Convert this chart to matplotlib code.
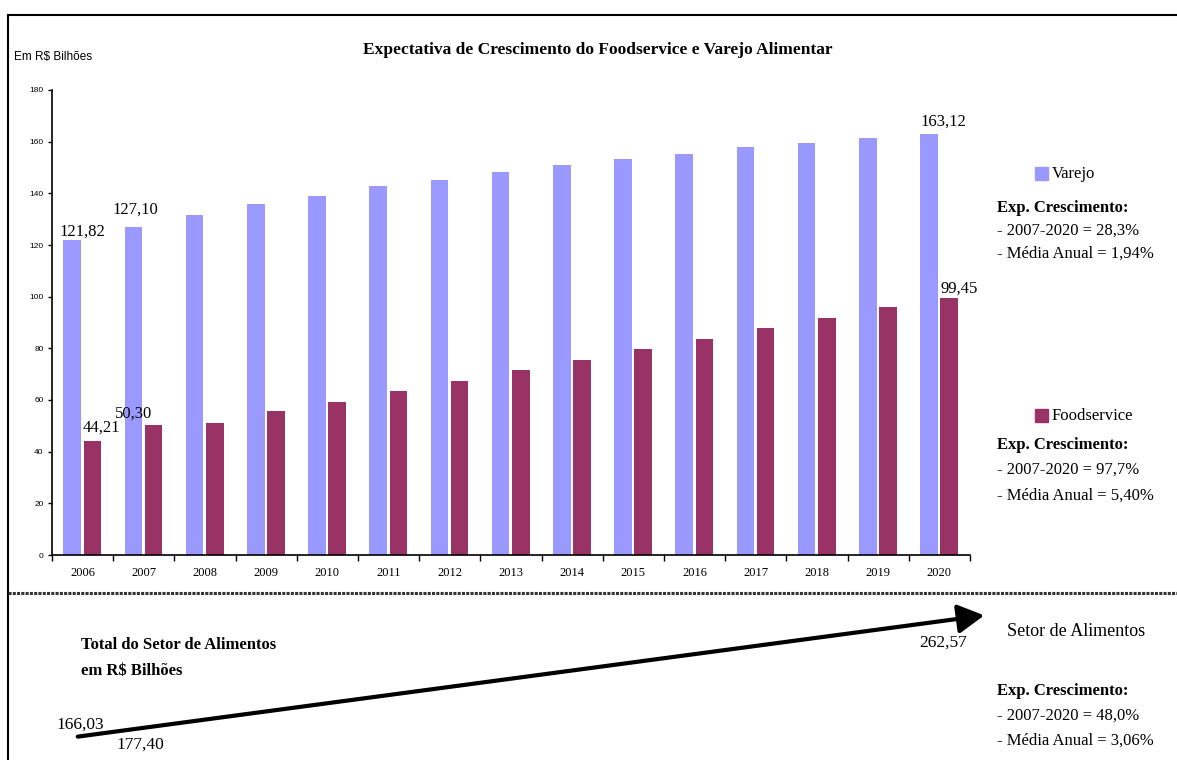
import numpy as np
import matplotlib.pyplot as plt
from matplotlib.lines import Line2D
from matplotlib.patches import Rectangle, FancyArrowPatch

W, H = 1177, 760

# dados
anos = ["2006", "2007", "2008", "2009", "2010", "2011", "2012", "2013",
        "2014", "2015", "2016", "2017", "2018", "2019", "2020"]
varejo = [121.82, 127.10, 131.6, 135.9, 139.0, 142.9, 145.2, 148.3,
          151.0, 153.3, 155.2, 158.0, 159.5, 161.4, 163.12]
foodservice = [44.21, 50.30, 51.1, 55.7, 59.2, 63.5, 67.4, 71.6,
               75.5, 79.7, 83.6, 87.9, 91.8, 96.0, 99.45]
total_setor = [166.03, 177.40, 262.57]
cresc_varejo = ["- 2007-2020 = 28,3%", "- Média Anual = 1,94%"]
cresc_food = ["- 2007-2020 = 97,7%", "- Média Anual = 5,40%"]
cresc_total = ["- 2007-2020 = 48,0%", "- Média Anual = 3,06%"]

cor_varejo = "#9999FF"
cor_food = "#993366"

plt.rcParams["font.family"] = ["Liberation Serif", "DejaVu Serif"]


def fmt(v):
    return f"{v:.2f}".replace(".", ",")


def px(x, y):
    return x / W, 1 - y / H


def ftxt(x, y, s, **kw):
    kw.setdefault("va", "center")
    kw.setdefault("ha", "left")
    fig.text(*px(x, y), s, **kw)


fig = plt.figure(figsize=(W / 100, H / 100), dpi=100)

# eixo do grafico de barras
left, right, top, bottom = 52, 970, 90, 555
ax = fig.add_axes([left / W, 1 - bottom / H, (right - left) / W, (bottom - top) / H])

x = np.arange(len(anos))
bw = 0.29
ax.bar(x - 0.17, varejo, bw, color=cor_varejo)
ax.bar(x + 0.16, foodservice, bw, color=cor_food)

ax.set_xlim(-0.5, len(anos) - 0.5)
ax.set_ylim(0, 180)
ax.set_yticks(range(0, 181, 20))
ax.tick_params(axis="y", labelsize=6, length=3, width=1, pad=3)
for lab in ax.get_yticklabels():
    lab.set_family("Liberation Sans")

ax.set_xticks(x)
ax.set_xticklabels(anos, fontsize=9)
ax.set_xticks(np.arange(-0.5, len(anos)), minor=True)
ax.tick_params(axis="x", which="major", length=0, pad=9)
ax.tick_params(axis="x", which="minor", length=4, width=1)
for s in ["top", "right"]:
    ax.spines[s].set_visible(False)
for s in ["left", "bottom"]:
    ax.spines[s].set_linewidth(1.2)

# rotulos de dados
pos_varejo = {0: (0.0, 3.2), 1: (0.86, 6.5), 14: (14.06, 4.5)}
pos_food = {0: (0.3, 5.0), 1: (0.83, 4.3), 14: (14.32, 3.6)}
for i, (xx, dy) in pos_varejo.items():
    ax.text(xx, varejo[i] + dy, fmt(varejo[i]), ha="center", va="center", fontsize=12)
for i, (xx, dy) in pos_food.items():
    ax.text(xx, foodservice[i] + dy, fmt(foodservice[i]), ha="center", va="center", fontsize=12)

# titulos
ftxt(598, 50, "Expectativa de Crescimento do Foodservice e Varejo Alimentar",
     ha="center", fontsize=12.5, fontweight="bold")
ftxt(14, 57, "Em R$ Bilhões", fontsize=8.5, family="Liberation Sans")

# legendas laterais
fig.add_artist(Rectangle(px(1035, 180), 13 / W, 13 / H, transform=fig.transFigure,
                         color=cor_varejo))
ftxt(1052, 174, "Varejo", fontsize=12)
ftxt(997, 208, "Exp. Crescimento:", fontsize=12, fontweight="bold")
ftxt(997, 231, cresc_varejo[0], fontsize=12)
ftxt(997, 254, cresc_varejo[1], fontsize=12)

fig.add_artist(Rectangle(px(1035, 422), 13 / W, 13 / H, transform=fig.transFigure,
                         color=cor_food))
ftxt(1052, 416, "Foodservice", fontsize=12)
ftxt(997, 445, "Exp. Crescimento:", fontsize=12, fontweight="bold")
ftxt(997, 470, cresc_food[0], fontsize=12)
ftxt(997, 496, cresc_food[1], fontsize=12)

# molduras
fig.add_artist(Line2D([8 / W, 1], [1 - 15 / H] * 2, transform=fig.transFigure,
                      color="black", lw=1.5))
fig.add_artist(Line2D([8 / W] * 2, [1 - 15 / H, 0], transform=fig.transFigure,
                      color="black", lw=1.5))
fig.add_artist(Line2D([8 / W, 1], [1 - 593 / H] * 2, transform=fig.transFigure,
                      color="#333333", lw=2.2, linestyle=(0, (1, 0.4))))

# parte inferior: total do setor
ftxt(81, 645, "Total do Setor de Alimentos", fontsize=12, fontweight="bold")
ftxt(81, 671, "em R$ Bilhões", fontsize=12, fontweight="bold")

arrow = FancyArrowPatch(px(75, 737), px(987, 615), transform=fig.transFigure,
                        arrowstyle="-|>,head_length=1.0,head_width=0.55",
                        mutation_scale=16, lw=3, color="black")
fig.add_artist(arrow)

ftxt(80, 725, fmt(total_setor[0]), ha="center", fontsize=12.5)
ftxt(140, 745, fmt(total_setor[1]), ha="center", fontsize=12.5)
ftxt(943, 643, fmt(total_setor[2]), ha="center", fontsize=12.5)

ftxt(1007, 631, "Setor de Alimentos", fontsize=13)
ftxt(997, 691, "Exp. Crescimento:", fontsize=12, fontweight="bold")
ftxt(997, 716, cresc_total[0], fontsize=12)
ftxt(997, 741, cresc_total[1], fontsize=12)

fig.savefig("out.png", dpi=100)
